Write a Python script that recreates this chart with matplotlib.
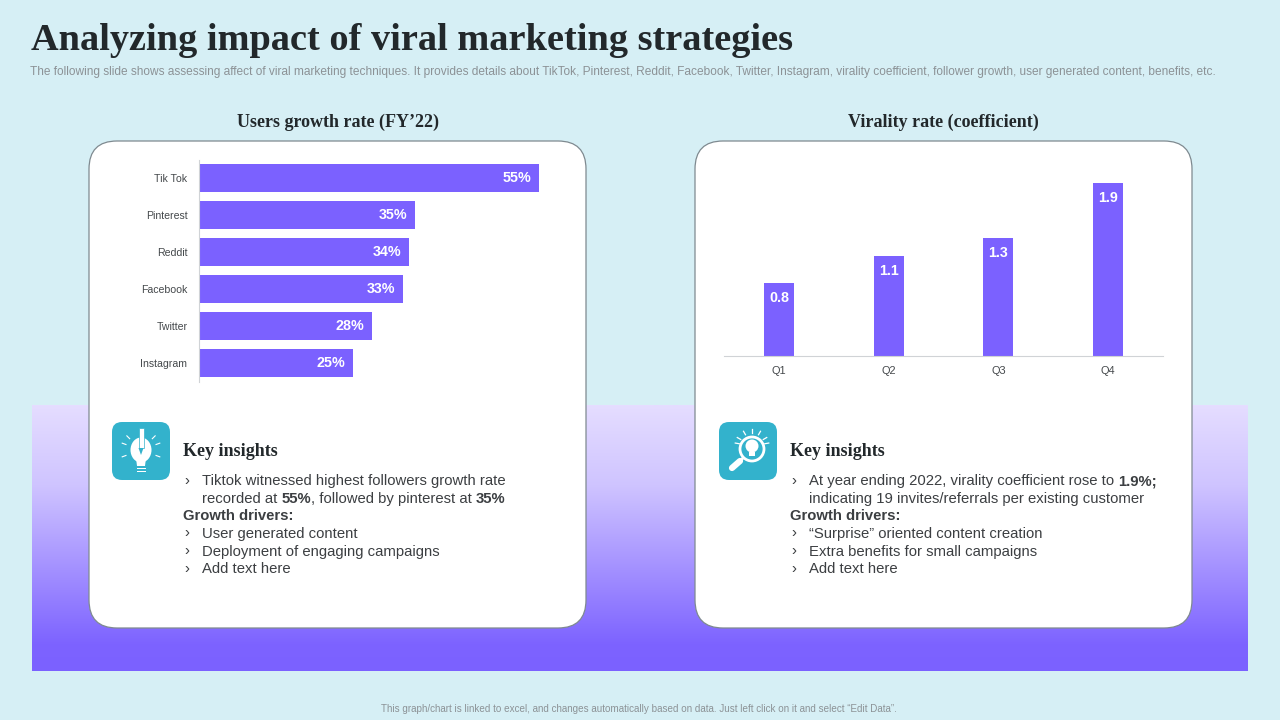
import numpy as np
import matplotlib
matplotlib.use("Agg")
import matplotlib.pyplot as plt
from matplotlib.patches import FancyBboxPatch, Circle, Ellipse, Rectangle, Polygon
from matplotlib.colors import LinearSegmentedColormap

platforms = ["Tik Tok", "Pinterest", "Reddit", "Facebook", "Twitter", "Instagram"]
growth = [55, 35, 34, 33, 28, 25]
quarters = ["Q1", "Q2", "Q3", "Q4"]
virality = [0.8, 1.1, 1.3, 1.9]

TITLE = "Analyzing impact of viral marketing strategies"
SUB = ("The following slide shows assessing affect of viral marketing techniques. It provides details about TikTok, "
       "Pinterest, Reddit, Facebook, Twitter, Instagram, virality coefficient, follower growth, user generated content, benefits, etc.")
FOOT = "This graph/chart is linked to excel, and changes automatically based on data. Just left click on it and select \u201cEdit Data\u201d."
left_lines = [
    (481, True, [("Tiktok witnessed highest followers growth rate", False)]),
    (499, False, [("recorded at ", False), ("55%", True), (", followed by pinterest at ", False), ("35%", True)]),
    (516, None, [("Growth drivers:", True)]),
    (534, True, [("User generated content", False)]),
    (552, True, [("Deployment of engaging campaigns", False)]),
    (569, True, [("Add text here", False)]),
]
right_lines = [
    (481, True, [("At year ending 2022, virality coefficient rose to ", False), ("1.9%;", True)]),
    (499, False, [("indicating 19 invites/referrals per existing customer", False)]),
    (516, None, [("Growth drivers:", True)]),
    (534, True, [("\u201cSurprise\u201d oriented content creation", False)]),
    (552, True, [("Extra benefits for small campaigns", False)]),
    (569, True, [("Add text here", False)]),
]

BG = "#D6EFF5"
PURPLE = "#7B61FF"
TEAL = "#33B2CC"
DARK = "#22282B"
GREY = "#8C9296"
BODY = "#3C3F42"
SANS = "Liberation Sans"
SERIF = "Liberation Serif"
W, H = 1280, 720

fig = plt.figure(figsize=(12.8, 7.2), dpi=100, facecolor=BG)
bg = fig.add_axes([0, 0, 1, 1])
bg.set_xlim(0, W)
bg.set_ylim(H, 0)
bg.axis("off")

cmap = LinearSegmentedColormap.from_list("g", [(0, "#E5DDFF"), (0.3, "#CFC4FF"), (0.9, "#7D63FF"), (1, PURPLE)])
bg.imshow(np.linspace(0, 1, 256)[:, None], extent=(32, 1248, 671, 405), cmap=cmap, aspect="auto", zorder=1)
bg.set_xlim(0, W)
bg.set_ylim(H, 0)

for x0 in (89, 695):
    bg.add_patch(FancyBboxPatch((x0 + 28, 141 + 28), 497 - 56, 487 - 56,
                                boxstyle="round,pad=28,rounding_size=28", fc="white", ec="#7F8A90", lw=0.9, zorder=2))

bg.text(31, 41, TITLE, family=SERIF, weight="bold", size=27.6, color=DARK, va="center", ha="left", zorder=5)
bg.text(30, 72.5, SUB, family=SANS, size=8.55, color=GREY, va="center", ha="left", zorder=5)
bg.text(338, 122, "Users growth rate (FY\u201922)", family=SERIF, weight="bold", size=13, color=DARK, va="center", ha="center", zorder=5)
bg.text(943, 122, "Virality rate (coefficient)", family=SERIF, weight="bold", size=13, color=DARK, va="center", ha="center", zorder=5)
bg.text(639, 709, FOOT, family=SANS, size=7.1, color=GREY, va="center", ha="center", zorder=5)


def pix_axes(x0, y0, x1, y1):
    return fig.add_axes([x0 / W, 1 - y1 / H, (x1 - x0) / W, (y1 - y0) / H], facecolor="none", zorder=6)


# bar chart
ax = pix_axes(198.5, 159.5, 570, 381.5)
ypos = np.arange(len(platforms))
ax.barh(ypos, growth, height=0.73, color=PURPLE)
ax.set_xlim(0, 60)
ax.set_ylim(len(platforms) - 0.5, -0.5)
ax.set_yticks(ypos, platforms, family=SANS, size=7.6, color="#44484B")
ax.tick_params(axis="y", length=0, pad=8)
ax.xaxis.set_visible(False)
for s in ("top", "right", "bottom"):
    ax.spines[s].set_visible(False)
ax.spines["left"].set_color("#D0D3D6")
ax.spines["left"].set_linewidth(0.8)
for y, v in zip(ypos, growth):
    ax.text(v - 1.3, y, f"{v}%", ha="right", va="center", color="white", family=SANS, weight="bold", size=10.3)

# column chart
ax2 = pix_axes(724, 174, 1163, 356)
xpos = np.arange(len(quarters))
ax2.bar(xpos, virality, width=30 / 109.5, color=PURPLE)
ax2.set_xlim(-0.5, 3.5)
ax2.set_ylim(0, 2.0)
ax2.set_xticks(xpos, quarters, family=SANS, size=7.9, color="#44484B")
ax2.tick_params(axis="x", length=0, pad=7)
ax2.yaxis.set_visible(False)
for s in ("top", "right", "left"):
    ax2.spines[s].set_visible(False)
ax2.spines["bottom"].set_color("#D0D3D6")
ax2.spines["bottom"].set_linewidth(0.8)
for x, v in zip(xpos, virality):
    ax2.text(x, v - 0.165, f"{v}", ha="center", va="center", color="white", family=SANS, weight="bold", size=10.3)


def runs(x, y, parts):
    r = fig.canvas.get_renderer()
    for s, b in parts:
        t = bg.text(x, y, s, family=SANS, weight="bold" if b else "normal", size=10.75, color=BODY,
                    va="center", ha="left", zorder=5)
        adv = bg.text(0, -100, s.replace(" ", "\u00a0"), family=SANS, weight="bold" if b else "normal", size=10.75)
        x += adv.get_window_extent(r).width
        adv.remove()


for x0, lines in ((183, left_lines), (790, right_lines)):
    bg.text(x0, 452, "Key insights", family=SERIF, weight="bold", size=13, color=DARK, va="center", ha="left", zorder=5)
    for y, bullet, parts in lines:
        if bullet:
            bg.text(x0 + 1, y - 0.5, "\u203a", family=SANS, size=10.75, color=BODY, va="center", ha="left", zorder=5)
        runs(x0 if bullet is None else x0 + 19, y, parts)

# icon tiles
for x0 in (112, 719):
    bg.add_patch(FancyBboxPatch((x0 + 10, 422 + 10), 38, 38, boxstyle="round,pad=10,rounding_size=10",
                                fc=TEAL, ec="none", zorder=3))

# left icon: bulb with pencil
c = 141
bg.add_patch(Ellipse((c, 450), 21, 25, fc="white", ec="none", zorder=4))
bg.add_patch(Polygon([(c - 5, 458), (c + 5, 458), (c + 4, 466), (c - 4, 466)], fc="white", ec="none", zorder=4))
for yy in (468, 470.5):
    bg.add_patch(Rectangle((c - 4.5, yy), 9, 1.4, fc="white", ec="none", zorder=4))
bg.add_patch(Rectangle((c - 2.5, 428), 5, 20, fc="white", ec=TEAL, lw=0.5, zorder=5))
bg.add_patch(Polygon([(c - 2.5, 448), (c + 2.5, 448), (c, 455)], fc=TEAL, ec="none", zorder=5))
for a in (20, 160, 200, 340, 45, 135):
    ca, sa = np.cos(np.radians(a)), np.sin(np.radians(a))
    bg.plot([c + 16 * ca, c + 20 * ca], [450 - 16 * sa, 450 - 20 * sa], color="white", lw=0.8, zorder=4)

# right icon: bulb under a magnifier
cx, cy = 752, 449
bg.add_patch(Circle((cx, cy), 12, fc="none", ec="white", lw=2.0, zorder=4))
bg.add_patch(Circle((cx, cy - 3), 6.5, fc="white", ec="none", zorder=4))
bg.add_patch(Rectangle((cx - 3, cy + 3), 6, 4, fc="white", ec="none", zorder=4))
bg.plot([cx - 9, cx - 12], [cy + 9, cy + 12], color="white", lw=2, zorder=4)
bg.plot([cx - 12, cx - 20], [cy + 12, cy + 19], color="white", lw=4.5, solid_capstyle="round", zorder=4)
for a in (30, 60, 90, 120, 150, 10, 170):
    ca, sa = np.cos(np.radians(a)), np.sin(np.radians(a))
    bg.plot([cx + 13 * ca, cx + 17 * ca], [cy - 3 - 13 * sa, cy - 3 - 17 * sa], color="white", lw=0.9, zorder=4)

fig.savefig("out.png", dpi=100, facecolor=BG)
